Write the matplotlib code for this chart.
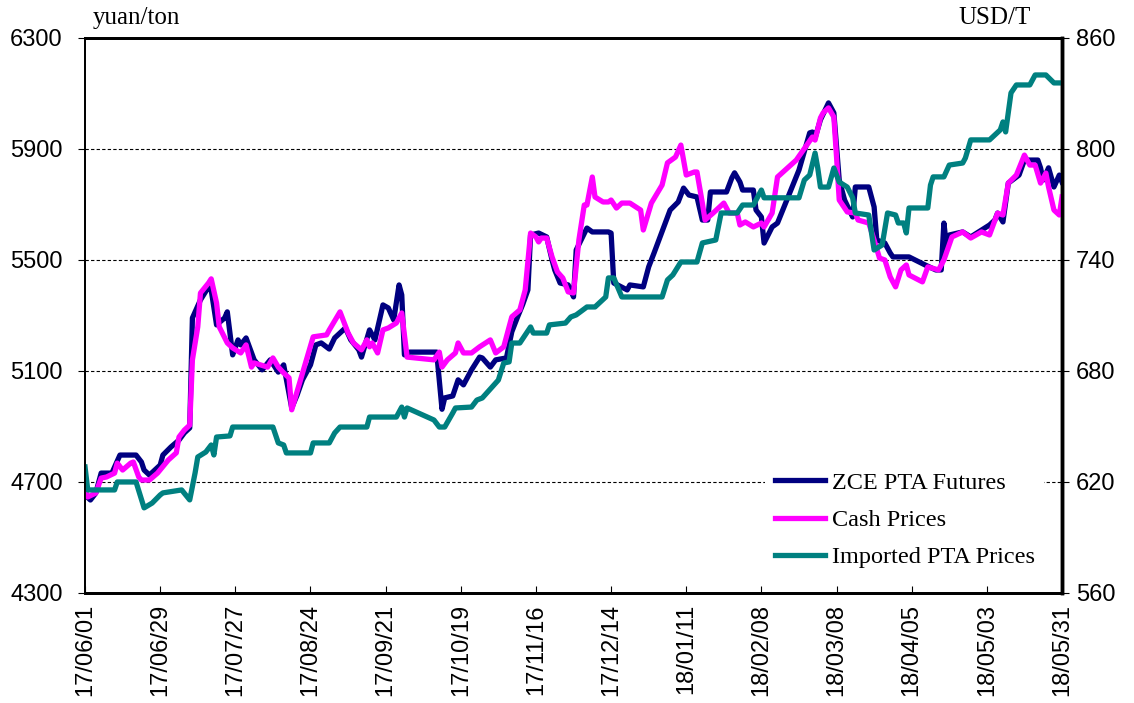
import pandas as pd
import numpy as np
import matplotlib.pyplot as plt
import matplotlib.dates as mdates

plt.rcParams['font.family'] = ['Liberation Sans', 'DejaVu Sans']

start = pd.Timestamp('2017-06-01')

# ZCE PTA futures, yuan/ton (days since 2017-06-01)
zce_days = [0, 2, 4, 6, 10, 13, 19, 21, 22, 24, 28, 29, 32, 35, 37, 39, 40, 43, 46, 47,
            49, 52, 53, 55, 57, 58, 60, 63, 66, 69, 72, 74, 77, 79, 81, 84, 86, 88, 91, 93,
            95, 97, 99, 102, 103, 106, 108, 111, 113, 115, 117, 118, 119, 121, 131, 133, 134, 137, 139, 141,
            144, 147, 148, 151, 153, 157, 159, 161, 163, 165, 166, 169, 172, 174, 175, 177, 180, 182, 183, 187,
            189, 195, 196, 197, 202, 203, 208, 210, 212, 218, 221, 223, 225, 228, 230, 232, 233, 239, 241, 242,
            244, 245, 249, 250, 252, 253, 256, 258, 261, 266, 270, 271, 272, 274, 277, 279, 280, 281, 283, 286,
            287, 292, 294, 295, 298, 300, 301, 307, 313, 317, 319, 320, 321, 322, 327, 330, 337, 339, 340, 342,
            344, 348, 350, 355, 356, 357, 359, 361, 363, 364]
zce = [4653, 4635, 4660, 4732, 4732, 4797, 4797, 4772, 4743, 4725, 4761, 4797, 4826, 4851, 4877, 4895, 5291, 5356, 5403, 5392,
       5266, 5291, 5313, 5158, 5212, 5194, 5219, 5140, 5104, 5140, 5096, 5122, 4967, 5013, 5068, 5122, 5194, 5201, 5179, 5219,
       5237, 5255, 5212, 5176, 5150, 5248, 5212, 5338, 5327, 5284, 5410, 5374, 5158, 5168, 5168, 4962, 5003, 5010, 5068, 5050,
       5104, 5150, 5147, 5114, 5140, 5147, 5241, 5291, 5338, 5392, 5590, 5597, 5583, 5500, 5464, 5417, 5410, 5367, 5536, 5615,
       5601, 5601, 5597, 5417, 5392, 5410, 5403, 5475, 5525, 5680, 5709, 5759, 5734, 5727, 5644, 5644, 5745, 5745, 5796, 5814,
       5781, 5752, 5752, 5680, 5655, 5561, 5619, 5633, 5705, 5824, 5958, 5961, 5940, 6005, 6066, 6030, 5907, 5788, 5716, 5655,
       5763, 5763, 5691, 5572, 5561, 5525, 5511, 5511, 5482, 5464, 5464, 5633, 5547, 5590, 5601, 5583, 5626, 5644, 5669, 5637,
       5777, 5806, 5860, 5860, 5832, 5788, 5832, 5763, 5806, 5781]

# Cash prices, yuan/ton
cash_days = [0, 1, 4, 6, 8, 11, 12, 14, 17, 18, 20, 21, 24, 27, 31, 34, 35, 37, 39, 40,
             42, 43, 46, 47, 49, 50, 53, 55, 58, 60, 62, 63, 68, 70, 72, 74, 76, 77, 85, 90,
             91, 95, 98, 100, 103, 105, 106, 107, 109, 111, 113, 116, 118, 120, 130, 132, 133, 135, 138, 139,
             141, 144, 147, 151, 153, 156, 159, 162, 164, 166, 168, 169, 170, 172, 174, 176, 178, 180, 182, 184,
             186, 187, 189, 190, 193, 195, 196, 198, 200, 203, 207, 208, 211, 215, 217, 220, 222, 224, 227, 228,
             230, 231, 234, 236, 238, 240, 243, 244, 246, 249, 252, 253, 256, 258, 265, 271, 272, 274, 275, 277,
             279, 280, 281, 284, 287, 288, 292, 294, 296, 298, 300, 302, 304, 306, 307, 312, 314, 318, 320, 323,
             327, 330, 334, 337, 340, 342, 344, 347, 350, 352, 354, 356, 358, 359, 361, 363, 364]
cash = [4671, 4646, 4660, 4714, 4718, 4732, 4768, 4743, 4768, 4772, 4718, 4707, 4707, 4732, 4779, 4805, 4862, 4887, 4905, 5140,
        5259, 5381, 5417, 5432, 5345, 5259, 5201, 5183, 5165, 5194, 5114, 5129, 5114, 5147, 5114, 5093, 5075, 4960, 5223, 5230,
        5248, 5313, 5237, 5201, 5176, 5212, 5187, 5201, 5165, 5248, 5255, 5273, 5309, 5150, 5140, 5168, 5114, 5140, 5165, 5201,
        5165, 5165, 5187, 5212, 5165, 5187, 5295, 5320, 5392, 5597, 5583, 5565, 5579, 5579, 5511, 5457, 5435, 5385, 5381, 5572,
        5698, 5698, 5799, 5727, 5709, 5709, 5716, 5687, 5705, 5705, 5680, 5608, 5705, 5770, 5850, 5871, 5914, 5806, 5817, 5817,
        5705, 5644, 5669, 5687, 5705, 5669, 5669, 5626, 5637, 5619, 5633, 5619, 5669, 5799, 5860, 5943, 5932, 6012, 6030, 6048,
        6015, 5871, 5716, 5673, 5669, 5644, 5633, 5572, 5507, 5500, 5439, 5403, 5464, 5482, 5446, 5421, 5475, 5464, 5500, 5583,
        5601, 5579, 5601, 5590, 5669, 5662, 5777, 5806, 5878, 5842, 5842, 5777, 5813, 5763, 5680, 5662, 5727]

# Imported PTA prices, USD/T
imp_days = [0, 1, 11, 12, 19, 22, 25, 28, 29, 36, 39, 41, 42, 45, 47, 48, 49, 54, 55, 70,
            72, 74, 75, 84, 85, 91, 93, 95, 105, 106, 116, 118, 119, 120, 130, 132, 134, 137, 138, 144,
            146, 148, 154, 156, 158, 159, 162, 166, 167, 172, 173, 179, 181, 183, 187, 190, 194, 195, 197, 200,
            215, 217, 219, 222, 228, 230, 235, 237, 243, 245, 249, 252, 253, 266, 268, 270, 272, 273, 274, 277,
            279, 281, 284, 286, 287, 292, 294, 297, 299, 302, 303, 305, 306, 307, 314, 315, 316, 320, 322, 327,
            328, 330, 337, 341, 342, 343, 345, 347, 352, 354, 358, 361, 364]
imp = [628.1, 615.7, 615.7, 620.0, 620.0, 606.0, 608.6, 613.0, 614.1, 615.7, 610.3, 624.9, 633.5, 636.2, 640.0, 634.6, 644.3, 644.9, 649.7, 649.7,
       641.1, 640.0, 635.7, 635.7, 641.1, 641.1, 646.5, 649.7, 649.7, 655.1, 655.1, 660.5, 655.1, 660.0, 653.5, 649.7, 649.7, 657.3, 660.0, 660.5,
       664.3, 665.4, 675.1, 684.3, 684.9, 695.1, 695.1, 703.8, 700.5, 700.5, 704.9, 705.9, 709.2, 710.3, 714.6, 714.6, 720.0, 730.3, 730.3, 720.0,
       720.0, 729.2, 731.9, 738.9, 738.9, 749.2, 750.8, 765.4, 765.4, 769.7, 769.7, 777.8, 773.6, 773.6, 783.2, 785.9, 797.8, 789.7, 779.4, 779.4,
       789.7, 782.1, 779.4, 773.6, 765.4, 764.3, 745.4, 748.1, 765.4, 764.3, 760.0, 760.0, 754.6, 768.1, 768.1, 780.5, 784.9, 784.9, 791.3, 792.4,
       795.1, 804.9, 804.9, 810.3, 814.6, 809.2, 830.3, 834.6, 834.6, 840.0, 840.0, 835.7, 835.7]

labels = ['ZCE PTA Futures', 'Cash Prices', 'Imported PTA Prices']

zce_x = start + pd.to_timedelta(zce_days, unit='D')
cash_x = start + pd.to_timedelta(cash_days, unit='D')
imp_x = start + pd.to_timedelta(imp_days, unit='D')

fig = plt.figure(figsize=(11.34, 7.03), dpi=100)
ax = fig.add_axes([0.075, 0.1565, 0.8615, 0.7895])
ax2 = ax.twinx()

l1, = ax.plot(zce_x, zce, color='#000080', lw=3.8, solid_joinstyle='round', zorder=3)
l2, = ax.plot(cash_x, cash, color='#FF00FF', lw=3.8, solid_joinstyle='round', zorder=4)
l3, = ax2.plot(imp_x, imp, color='#008080', lw=3.8, solid_joinstyle='round')

ax.set_ylim(4300, 6300)
ax.set_yticks(np.arange(4300, 6301, 400))
ax2.set_ylim(560, 860)
ax2.set_yticks(np.arange(560, 861, 60))

ax.set_xlim(start, start + pd.Timedelta(days=364))
ax.set_xticks(pd.date_range(start, periods=14, freq='28D'))
ax.xaxis.set_major_formatter(mdates.DateFormatter('%y/%m/%d'))
plt.setp(ax.get_xticklabels(), rotation=90)

ax.grid(axis='y', color='black', ls=(0, (3, 2)), lw=0.8)
ax.tick_params(axis='y', labelsize=17, direction='out', length=5, pad=11)
ax.tick_params(axis='x', labelsize=17, direction='in', length=5, pad=8)
ax2.tick_params(axis='y', labelsize=17, direction='out', length=5, pad=5)

for a in (ax, ax2):
    a.spines['top'].set_linewidth(2)
    a.spines['bottom'].set_linewidth(2)
    a.spines['right'].set_linewidth(2.5)
    a.spines['left'].set_linewidth(1.3)

fig.text(0.082, 0.975, 'yuan/ton', family='Liberation Serif', fontsize=18, va='center')
fig.text(0.845, 0.975, 'USD/T', family='Liberation Serif', fontsize=18, va='center')

leg = ax2.legend([l1, l2, l3], labels, loc='upper left', bbox_to_anchor=(0.664, 0.36),
                 bbox_transform=fig.transFigure, frameon=True, fancybox=False,
                 facecolor='white', edgecolor='none', framealpha=1,
                 prop={'family': 'Liberation Serif', 'size': 17.5},
                 handlelength=2.05, handletextpad=0.29, labelspacing=0.63)

fig.savefig('out.png', dpi=100)
